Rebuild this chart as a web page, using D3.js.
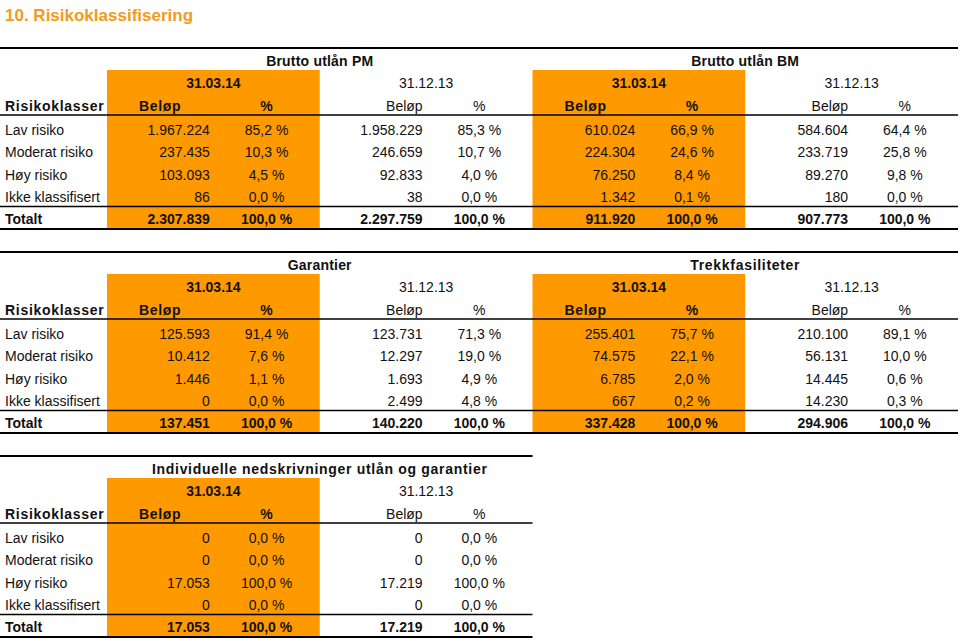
<!DOCTYPE html>
<html>
<head>
<meta charset="utf-8">
<script src="https://cdn.jsdelivr.net/npm/d3@7"></script>
<style>
  html, body { margin: 0; padding: 0; background: #fff; }
  svg { display: block; font-family: "Liberation Sans", Arial, sans-serif; }
</style>
</head>
<body>
<svg id="chart" width="960" height="640"></svg>
<script>
// ---------- DATA ----------
const pageTitle = "10. Risikoklassifisering";
const categories = ["Lav risiko", "Moderat risiko", "Høy risiko", "Ikke klassifisert"];
const periods = ["31.03.14", "31.12.13"];
const headerLabel = "Risikoklasser";
const totalLabel = "Totalt";
const colHeaders = ["Beløp", "%"];

// Brutto utlån PM
const pmBelop1 = [1967224, 237435, 103093, 86];
const pmPct1 = [85.2, 10.3, 4.5, 0.0];
const pmBelop2 = [1958229, 246659, 92833, 38];
const pmPct2 = [85.3, 10.7, 4.0, 0.0];
const pmTotals = [2307839, 100.0, 2297759, 100.0];

// Brutto utlån BM
const bmBelop1 = [610024, 224304, 76250, 1342];
const bmPct1 = [66.9, 24.6, 8.4, 0.1];
const bmBelop2 = [584604, 233719, 89270, 180];
const bmPct2 = [64.4, 25.8, 9.8, 0.0];
const bmTotals = [911920, 100.0, 907773, 100.0];

// Garantier
const gaBelop1 = [125593, 10412, 1446, 0];
const gaPct1 = [91.4, 7.6, 1.1, 0.0];
const gaBelop2 = [123731, 12297, 1693, 2499];
const gaPct2 = [71.3, 19.0, 4.9, 4.8];
const gaTotals = [137451, 100.0, 140220, 100.0];

// Trekkfasiliteter
const trBelop1 = [255401, 74575, 6785, 667];
const trPct1 = [75.7, 22.1, 2.0, 0.2];
const trBelop2 = [210100, 56131, 14445, 14230];
const trPct2 = [89.1, 10.0, 0.6, 0.3];
const trTotals = [337428, 100.0, 294906, 100.0];

// Individuelle nedskrivninger
const inBelop1 = [0, 0, 17053, 0];
const inPct1 = [0.0, 0.0, 100.0, 0.0];
const inBelop2 = [0, 0, 17219, 0];
const inPct2 = [0.0, 0.0, 100.0, 0.0];
const inTotals = [17053, 100.0, 17219, 100.0];

const sectionTitles = [
  ["Brutto utlån PM", "Brutto utlån BM"],
  ["Garantier", "Trekkfasiliteter"],
  ["Individuelle nedskrivninger utlån og garantier"]
];

// ---------- BUILD ----------
const sections = [
  { groups: [
    { title: sectionTitles[0][0], cols: [pmBelop1, pmPct1, pmBelop2, pmPct2], totals: pmTotals },
    { title: sectionTitles[0][1], cols: [bmBelop1, bmPct1, bmBelop2, bmPct2], totals: bmTotals } ] },
  { groups: [
    { title: sectionTitles[1][0], cols: [gaBelop1, gaPct1, gaBelop2, gaPct2], totals: gaTotals },
    { title: sectionTitles[1][1], cols: [trBelop1, trPct1, trBelop2, trPct2], totals: trTotals } ] },
  { groups: [
    { title: sectionTitles[2][0], cols: [inBelop1, inPct1, inBelop2, inPct2], totals: inTotals, spaced: true } ] }
];

const no = d3.formatLocale({ decimal: ",", thousands: ".", grouping: [3], currency: ["", " kr"] });
const fmtNum = no.format(",.0f");
const fmtPct = v => no.format(".1f")(v) + " %";

const ORANGE = "#FF9900";
const TEXT = "#111";
const svg = d3.select("#chart");

// scales
const colX = d3.scaleLinear().domain([0, 8]).range([107, 958]);
const sectionY = d3.scaleLinear().domain([0, 2]).range([48, 456]);
const rowY = d3.scaleLinear().domain([0, 3]).range([82, 149]);

// page title
svg.append("text")
  .attr("x", 5).attr("y", 15).attr("dy", "0.35em")
  .attr("font-size", 17).attr("font-weight", "bold")
  .attr("fill", "#F39A1E")
  .text(pageTitle);

function txt(g, x, y, s, opts = {}) {
  const t = g.append("text")
    .attr("x", x).attr("y", y).attr("dy", "0.35em")
    .attr("font-size", opts.size || 14)
    .attr("fill", TEXT)
    .attr("text-anchor", opts.anchor || "start")
    .text(s);
  if (opts.bold) t.attr("font-weight", "bold");
  if (opts.spacing) t.attr("letter-spacing", opts.spacing);
  return t;
}

sections.forEach((sec, si) => {
  const g = svg.append("g").attr("transform", `translate(0,${sectionY(si)})`);
  const nG = sec.groups.length;
  const xEnd = colX(nG * 4);

  // orange fills for current period
  sec.groups.forEach((grp, gi) => {
    const c0 = gi * 4;
    g.append("rect")
      .attr("x", colX(c0)).attr("y", 22)
      .attr("width", colX(c0 + 2) - colX(c0)).attr("height", 181 - 22)
      .attr("fill", ORANGE);
  });

  // lines
  const lines = [[0, 2], [67, 1.5], [158.5, 1.5], [181, 2]];
  lines.forEach(([y, w]) => {
    g.append("line").attr("x1", 0).attr("x2", xEnd)
      .attr("y1", y).attr("y2", y)
      .attr("stroke", "#000").attr("stroke-width", w);
  });

  // row labels
  txt(g, 5, 58, headerLabel, { bold: true, spacing: 0.7 });
  categories.forEach((c, i) => txt(g, 5, rowY(i), c));
  txt(g, 5, 171, totalLabel, { bold: true });

  sec.groups.forEach((grp, gi) => {
    const c0 = gi * 4;
    // section title
    txt(g, colX(c0 + 2), 13, grp.title, { bold: true, anchor: "middle", spacing: (grp.spaced || gi === 1 && si === 1) ? 0.7 : 0.2 });
    // periods
    txt(g, colX(c0 + 1), 35, periods[0], { bold: true, anchor: "middle" });
    txt(g, colX(c0 + 3), 35, periods[1], { anchor: "middle" });
    // column headers
    txt(g, colX(c0 + 0.5), 58, colHeaders[0], { bold: true, anchor: "middle", spacing: 0.7 });
    txt(g, colX(c0 + 1.5), 58, colHeaders[1], { bold: true, anchor: "middle" });
    txt(g, colX(c0 + 3) - 3.5, 58, colHeaders[0], { anchor: "end" });
    txt(g, colX(c0 + 3.5), 58, colHeaders[1], { anchor: "middle" });

    // values
    [0, 2].forEach(k => {
      grp.cols[k].forEach((v, i) => txt(g, colX(c0 + k + 1) - 3.5, rowY(i), fmtNum(v), { anchor: "end" }));
      grp.cols[k + 1].forEach((v, i) => txt(g, colX(c0 + k + 1.5), rowY(i), fmtPct(v), { anchor: "middle" }));
      txt(g, colX(c0 + k + 1) - 3.5, 171, fmtNum(grp.totals[k]), { anchor: "end", bold: true });
      txt(g, colX(c0 + k + 1.5), 171, fmtPct(grp.totals[k + 1]), { anchor: "middle", bold: true });
    });
  });
});
</script>
</body>
</html>
